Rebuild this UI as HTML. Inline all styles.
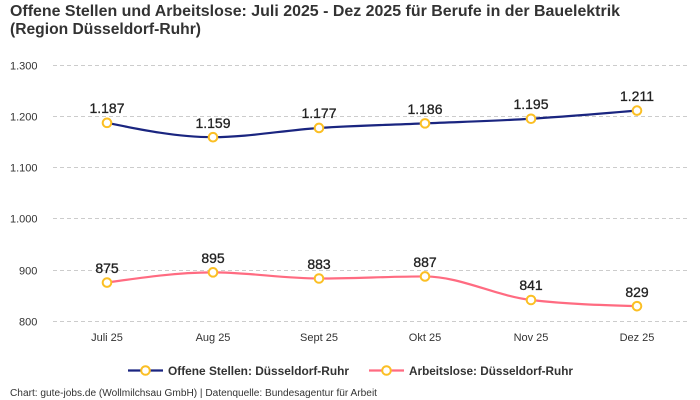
<!DOCTYPE html>
<html><head><meta charset="utf-8"><style>
html,body{margin:0;padding:0;background:#fff;}
svg{display:block;font-family:"Liberation Sans",Arial,sans-serif;}
</style></head><body>
<svg width="700" height="400" viewBox="0 0 700 400" xmlns="http://www.w3.org/2000/svg">
<rect width="700" height="400" fill="#fff"/>
<text x="10" y="16" font-size="16" font-weight="bold" fill="#333" textLength="610" lengthAdjust="spacingAndGlyphs">Offene Stellen und Arbeitslose: Juli 2025 - Dez 2025 für Berufe in der Bauelektrik</text>
<text x="10" y="34" font-size="16" font-weight="bold" fill="#333" textLength="191" lengthAdjust="spacingAndGlyphs">(Region Düsseldorf-Ruhr)</text>
<g stroke="#ccc" stroke-width="1" stroke-dasharray="4,3">
<line x1="53" y1="65.5" x2="688" y2="65.5"/>
<line x1="53" y1="116.5" x2="688" y2="116.5"/>
<line x1="53" y1="167.5" x2="688" y2="167.5"/>
<line x1="53" y1="218.5" x2="688" y2="218.5"/>
<line x1="53" y1="270.5" x2="688" y2="270.5"/>
<line x1="53" y1="321.5" x2="688" y2="321.5"/>
</g>
<g font-size="11" fill="#333">
<text x="10" y="69.5">1.300</text>
<text x="10" y="120.5">1.200</text>
<text x="10" y="171.5">1.100</text>
<text x="10" y="222.5">1.000</text>
<text x="19" y="274.5">900</text>
<text x="19" y="325.5">800</text>
</g>
<g font-size="11" fill="#333" text-anchor="middle">
<text x="107" y="341">Juli 25</text>
<text x="213" y="341">Aug 25</text>
<text x="319" y="341">Sept 25</text>
<text x="425" y="341">Okt 25</text>
<text x="531" y="341">Nov 25</text>
<text x="637" y="341">Dez 25</text>
</g>
<path d="M107,122.856 C142.333,130.024 177.667,137.192 213,137.192 C248.333,137.192 283.667,130.28 319,127.976 C354.333,125.672 389.667,124.904 425,123.368 C460.333,121.832 495.667,120.893 531,118.76 C566.333,116.627 601.667,113.597 637,110.568" fill="none" stroke="#1a2580" stroke-width="2.2"/>
<path d="M107,282.6 C142.333,277.48 177.667,272.36 213,272.36 C248.333,272.36 283.667,278.504 319,278.504 C354.333,278.504 389.667,276.456 425,276.456 C460.333,276.456 495.667,295.912 531,300.008 C566.333,304.104 601.667,305.128 637,306.152" fill="none" stroke="#ff6b81" stroke-width="2.2"/>
<g fill="#fff" stroke="#fbbf24" stroke-width="2">
<circle cx="107" cy="122.856" r="4.3"/>
<circle cx="213" cy="137.192" r="4.3"/>
<circle cx="319" cy="127.976" r="4.3"/>
<circle cx="425" cy="123.368" r="4.3"/>
<circle cx="531" cy="118.76" r="4.3"/>
<circle cx="637" cy="110.568" r="4.3"/>
<circle cx="107" cy="282.6" r="4.3"/>
<circle cx="213" cy="272.36" r="4.3"/>
<circle cx="319" cy="278.504" r="4.3"/>
<circle cx="425" cy="276.456" r="4.3"/>
<circle cx="531" cy="300.008" r="4.3"/>
<circle cx="637" cy="306.152" r="4.3"/>
</g>
<g font-size="14" fill="#222" stroke="#222" stroke-width="0.3" text-anchor="middle">
<text x="107" y="113">1.187</text>
<text x="213" y="128">1.159</text>
<text x="319" y="118">1.177</text>
<text x="425" y="114">1.186</text>
<text x="531" y="109">1.195</text>
<text x="637" y="101">1.211</text>
<text x="107" y="273">875</text>
<text x="213" y="263">895</text>
<text x="319" y="269">883</text>
<text x="425" y="267">887</text>
<text x="531" y="290">841</text>
<text x="637" y="297">829</text>
</g>
<line x1="128" y1="370.5" x2="163" y2="370.5" stroke="#1a2580" stroke-width="2.2"/>
<circle cx="145.5" cy="370.5" r="4.3" fill="#fff" stroke="#fbbf24" stroke-width="2"/>
<text x="168" y="375" font-size="12" font-weight="bold" fill="#333" textLength="181" lengthAdjust="spacingAndGlyphs">Offene Stellen: Düsseldorf-Ruhr</text>
<line x1="369" y1="370.5" x2="404" y2="370.5" stroke="#ff6b81" stroke-width="2.2"/>
<circle cx="386.5" cy="370.5" r="4.3" fill="#fff" stroke="#fbbf24" stroke-width="2"/>
<text x="409" y="375" font-size="12" font-weight="bold" fill="#333" textLength="164" lengthAdjust="spacingAndGlyphs">Arbeitslose: Düsseldorf-Ruhr</text>
<text x="10" y="396" font-size="10" fill="#333" textLength="367" lengthAdjust="spacingAndGlyphs">Chart: gute-jobs.de (Wollmilchsau GmbH) | Datenquelle: Bundesagentur für Arbeit</text>
</svg>
</body></html>
